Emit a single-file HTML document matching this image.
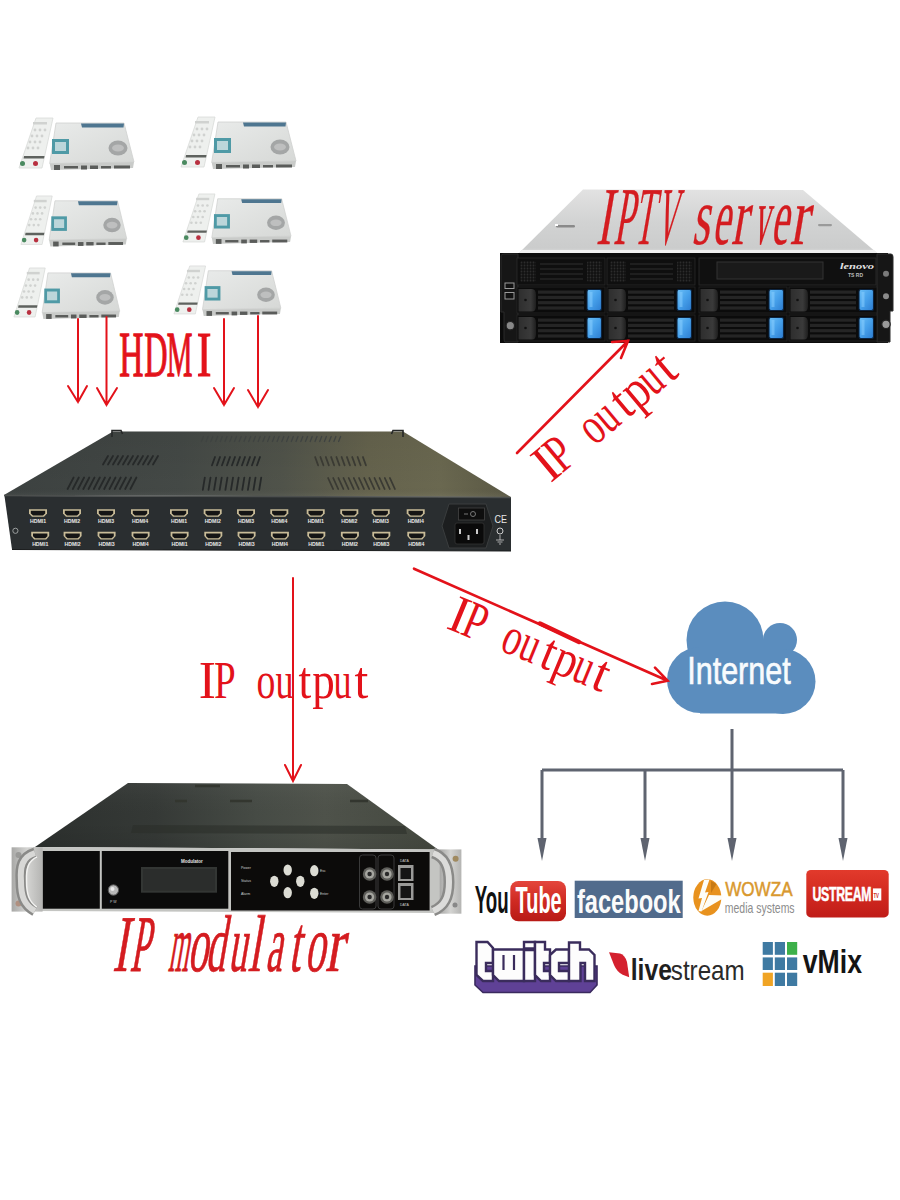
<!DOCTYPE html>
<html><head><meta charset="utf-8">
<style>
html,body{margin:0;padding:0;background:#fff;width:900px;height:1200px;overflow:hidden}
svg{display:block}
</style></head><body>
<svg width="900" height="1200" viewBox="0 0 900 1200">
<defs>
  <linearGradient id="encTop" gradientUnits="userSpaceOnUse" x1="4" y1="0" x2="511" y2="0">
    <stop offset="0" stop-color="#3c4140"/><stop offset="0.35" stop-color="#444946"/><stop offset="0.55" stop-color="#50534a"/><stop offset="0.72" stop-color="#65634d"/><stop offset="0.86" stop-color="#6a6850"/><stop offset="1" stop-color="#5a5844"/>
  </linearGradient>
  <linearGradient id="encHi" x1="0" y1="0" x2="0" y2="1">
    <stop offset="0" stop-color="#000" stop-opacity="0.05"/><stop offset="0.85" stop-color="#000" stop-opacity="0"/><stop offset="1" stop-color="#fff" stop-opacity="0.06"/>
  </linearGradient>
  <linearGradient id="srvTop" x1="0" y1="0" x2="0" y2="1">
    <stop offset="0" stop-color="#e2e2e2"/><stop offset="0.5" stop-color="#d2d3d3"/><stop offset="0.92" stop-color="#cbcccc"/><stop offset="1" stop-color="#dcdcdc"/>
  </linearGradient>
  <linearGradient id="modTop" gradientUnits="userSpaceOnUse" x1="35" y1="0" x2="438" y2="0">
    <stop offset="0" stop-color="#2c302e"/><stop offset="0.3" stop-color="#353936"/><stop offset="0.55" stop-color="#464b45"/><stop offset="0.72" stop-color="#4e524a"/><stop offset="1" stop-color="#454940"/>
  </linearGradient>
  <linearGradient id="boxBody" x1="0" y1="0" x2="1" y2="1">
    <stop offset="0" stop-color="#e9ebea"/><stop offset="1" stop-color="#d6d8d6"/>
  </linearGradient>
  <g id="stb">
    <polygon points="18,1 35,1 24,51 1,51" fill="#eef0ee" stroke="#d8dad8" stroke-width="0.8"/>
    <g fill="#d0d2d0">
      <rect x="15" y="5" width="14" height="2.5"/>
      <circle cx="17" cy="13" r="1.4"/><circle cx="22" cy="13" r="1.4"/><circle cx="27" cy="13" r="1.4"/>
      <circle cx="14" cy="19" r="1.4"/><circle cx="19" cy="19" r="1.4"/><circle cx="24" cy="19" r="1.4"/>
      <circle cx="12" cy="25" r="1.4"/><circle cx="17" cy="25" r="1.4"/><circle cx="22" cy="25" r="1.4"/>
      <circle cx="10" cy="31" r="1.4"/><circle cx="15" cy="31" r="1.4"/><circle cx="20" cy="31" r="1.4"/>
    </g>
    <polygon points="6,39 26.5,39 26,41.5 5.5,41.5" fill="#5e625e"/>
    <circle cx="4.5" cy="46.5" r="2.5" fill="#4a8a60"/>
    <circle cx="17.5" cy="46.5" r="2.5" fill="#b83040"/>
    <polygon points="38,6 106,6 116,45 31.7,46.5" fill="url(#boxBody)" stroke="#cfd1cf" stroke-width="0.8"/>
    <polygon points="31.7,46.5 116,45 115,51 33,53" fill="#c9cbc9"/>
    <g fill="#5a5c5a">
      <rect x="36" y="48" width="6" height="5"/><rect x="46" y="49" width="14" height="2.5"/>
      <rect x="63" y="48.5" width="6" height="4"/><rect x="72" y="48.5" width="8" height="3.5"/>
      <rect x="83" y="49" width="10" height="2.5"/><rect x="96" y="48.5" width="16" height="3"/>
    </g>
    <polygon points="63,6.5 106,6.5 105.5,10.5 64,10.5" fill="#4e7690"/>
    <rect x="34" y="22" width="17" height="15" fill="#4f9aa6"/>
    <rect x="37" y="25" width="11" height="9" fill="#bcd6da"/>
    <ellipse cx="100" cy="31" rx="9.5" ry="7.5" fill="#a4a6a6"/>
    <ellipse cx="100" cy="31" rx="6" ry="3.5" fill="#bebfbf"/>
  </g>
  <linearGradient id="blueTab" x1="0" y1="0" x2="1" y2="1">
    <stop offset="0" stop-color="#6cc0f8"/><stop offset="0.5" stop-color="#46a0ea"/><stop offset="1" stop-color="#2c7cd0"/>
  </linearGradient>
  <linearGradient id="latch" x1="0" y1="0" x2="1" y2="0">
    <stop offset="0" stop-color="#2e2e2e"/><stop offset="0.7" stop-color="#3a3a3a"/><stop offset="1" stop-color="#1e1e1e"/>
  </linearGradient>
  <g id="drv">
    <rect x="0" y="0" width="88" height="26" fill="#0b0b0b" stroke="#262626" stroke-width="0.8"/>
    <path d="M1.5,2 H15 Q19,2 19,8 V19 Q19,24.5 15,24.5 H1.5 Z" fill="url(#latch)"/>
    <circle cx="8.5" cy="13" r="1.3" fill="#111"/>
    <g fill="#252525">
      <rect x="21" y="3.5" width="46" height="3.2"/><rect x="21" y="8.8" width="46" height="3.2"/>
      <rect x="21" y="14.1" width="46" height="3.2"/><rect x="21" y="19.4" width="46" height="3.2"/>
    </g>
    <rect x="70" y="2.5" width="14.5" height="21" rx="2" fill="url(#blueTab)" stroke="#0c2440" stroke-width="1.1"/>
    <rect x="72.5" y="5" width="3" height="15" fill="#8cd0ff" opacity="0.5"/>
  </g>
  <pattern id="mesh" width="3" height="3" patternUnits="userSpaceOnUse">
    <rect width="3" height="3" fill="#111"/><circle cx="1.5" cy="1.5" r="0.9" fill="#2c2c2c"/>
  </pattern>
  <g id="bay">
    <rect x="0" y="0" width="88" height="27" fill="#0f0f0f" stroke="#2a2a2a" stroke-width="0.8"/>
    <rect x="3" y="3" width="16" height="21" rx="2" fill="url(#mesh)"/>
    <rect x="70" y="3" width="15" height="21" rx="2" fill="url(#mesh)"/>
    <g stroke="#262626" stroke-width="1.6">
      <path d="M23,6 H66 M23,11 H66 M23,16 H66 M23,21 H66"/>
    </g>
  </g>
  <g id="port">
    <path d="M-9,-3.8 h18 v4.3 l-3,3.3 h-12 l-3,-3.3 z" fill="#c9bc98"/>
    <path d="M-7.2,-2.2 h14.4 v2.8 l-2.2,2 h-10 l-2.2,-2 z" fill="#151515"/>
  </g>
  <linearGradient id="silverV" x1="0" y1="0" x2="1" y2="0">
    <stop offset="0" stop-color="#a8a8a6"/><stop offset="0.5" stop-color="#d4d4d2"/><stop offset="1" stop-color="#b4b4b2"/>
  </linearGradient>
  <linearGradient id="modHi" x1="0" y1="0" x2="0" y2="1">
    <stop offset="0" stop-color="#fff" stop-opacity="0.04"/><stop offset="0.6" stop-color="#000" stop-opacity="0"/><stop offset="1" stop-color="#000" stop-opacity="0.08"/>
  </linearGradient>
  <linearGradient id="ytRed" x1="0" y1="0" x2="0" y2="1">
    <stop offset="0" stop-color="#e4463c"/><stop offset="0.5" stop-color="#cf2a22"/><stop offset="1" stop-color="#b81a16"/>
  </linearGradient>
  <linearGradient id="usRed" x1="0" y1="0" x2="0" y2="1">
    <stop offset="0" stop-color="#e23a2c"/><stop offset="0.5" stop-color="#d22a20"/><stop offset="1" stop-color="#c01c18"/>
  </linearGradient>

</defs>
<rect width="900" height="1200" fill="#fff"/>
<!-- Set-top boxes -->
<use href="#stb" transform="translate(18,117)"/>
<use href="#stb" transform="translate(20,195) scale(0.92,0.97)"/>
<use href="#stb" transform="translate(13,267) scale(0.92,0.98)"/>
<use href="#stb" transform="translate(180,116)"/>
<use href="#stb" transform="translate(182,193) scale(0.94,0.96)"/>
<use href="#stb" transform="translate(173,265) scale(0.93,0.96)"/>

<!-- Encoder -->
<polygon points="4,495 113,431.5 403,431.5 511,497" fill="url(#encTop)"/>
<polygon points="4,495 113,431.5 403,431.5 511,497" fill="url(#encHi)"/>
<path d="M112,437 V430.5 H121 L122.5,434" fill="none" stroke="#262828" stroke-width="1.6"/>
<path d="M403,437 V430.5 H393 L391.5,434" fill="none" stroke="#262828" stroke-width="1.6"/>
<polygon points="4.5,496 511,497 511,551 12,549.5" fill="#2a2e30"/>
<line x1="4" y1="495.5" x2="511" y2="497.5" stroke="#4c4f4e" stroke-width="1.5"/>
<line x1="12" y1="549.5" x2="511" y2="551" stroke="#1a1c1d" stroke-width="1"/>
<!-- vents -->
<path d="M201.4,441.5 L203.4,436.5 M206.1,441.5 L208.1,436.5 M210.8,441.5 L212.8,436.5 M215.6,441.5 L217.6,436.5 M220.3,441.5 L222.3,436.5 M225.0,441.5 L227.0,436.5 M229.8,441.5 L231.8,436.5 M234.5,441.5 L236.5,436.5 M239.2,441.5 L241.2,436.5 M244.0,441.5 L246.0,436.5 M248.7,441.5 L250.7,436.5 M253.4,441.5 L255.4,436.5 M258.2,441.5 L260.2,436.5 M262.9,441.5 L264.9,436.5 M267.6,441.5 L269.6,436.5 M272.4,441.5 L274.4,436.5 M277.1,441.5 L279.1,436.5 M281.8,441.5 L283.8,436.5 M286.6,441.5 L288.6,436.5 M291.3,441.5 L293.3,436.5 M296.0,441.5 L298.0,436.5 M300.8,441.5 L302.8,436.5 M305.5,441.5 L307.5,436.5 M310.2,441.5 L312.2,436.5 M315.0,441.5 L317.0,436.5 M319.7,441.5 L321.7,436.5 M324.4,441.5 L326.4,436.5 M329.2,441.5 L331.2,436.5 M333.9,441.5 L335.9,436.5 M338.6,441.5 L340.6,436.5" stroke="#3f4341" stroke-width="1.3" stroke-linecap="round" fill="none"/>
<path d="M103.0,464.5 L108.0,456 M108.0,464.5 L113.0,456 M113.0,464.5 L118.0,456 M118.0,464.5 L123.0,456 M123.0,464.5 L128.0,456 M128.0,464.5 L133.0,456 M133.0,464.5 L138.0,456 M138.0,464.5 L143.0,456 M143.0,464.5 L148.0,456 M148.0,464.5 L153.0,456 M153.0,464.5 L158.0,456" stroke="#262929" stroke-width="1.8" stroke-linecap="round" fill="none"/>
<path d="M212.0,465.3 L215.0,457 M217.0,465.3 L220.0,457 M222.0,465.3 L225.0,457 M227.0,465.3 L230.0,457 M232.0,465.3 L235.0,457 M237.0,465.3 L240.0,457 M242.0,465.3 L245.0,457 M247.0,465.3 L250.0,457 M252.0,465.3 L255.0,457 M257.0,465.3 L260.0,457" stroke="#262929" stroke-width="1.8" stroke-linecap="round" fill="none"/>
<path d="M318.1,465.3 L315.1,457 M323.4,465.3 L320.4,457 M328.8,465.3 L325.8,457 M334.1,465.3 L331.1,457 M339.4,465.3 L336.4,457 M344.6,465.3 L341.6,457 M349.9,465.3 L346.9,457 M355.2,465.3 L352.2,457 M360.6,465.3 L357.6,457 M365.9,465.3 L362.9,457" stroke="#3a3a33" stroke-width="1.8" stroke-linecap="round" fill="none"/>
<path d="M67.6,489 L73.6,477.5 M72.8,489 L78.8,477.5 M78.1,489 L84.1,477.5 M83.3,489 L89.3,477.5 M88.5,489 L94.5,477.5 M93.8,489 L99.8,477.5 M99.0,489 L105.0,477.5 M104.2,489 L110.2,477.5 M109.5,489 L115.5,477.5 M114.7,489 L120.7,477.5 M119.9,489 L125.9,477.5 M125.2,489 L131.2,477.5 M130.4,489 L136.4,477.5" stroke="#262929" stroke-width="1.8" stroke-linecap="round" fill="none"/>
<path d="M202.8,489.8 L204.8,477.6 M208.5,489.8 L210.5,477.6 M214.1,489.8 L216.1,477.6 M219.7,489.8 L221.7,477.6 M225.4,489.8 L227.4,477.6 M231.0,489.8 L233.0,477.6 M236.6,489.8 L238.6,477.6 M242.3,489.8 L244.3,477.6 M247.9,489.8 L249.9,477.6 M253.5,489.8 L255.5,477.6 M259.2,489.8 L261.2,477.6" stroke="#262929" stroke-width="1.8" stroke-linecap="round" fill="none"/>
<path d="M333.1,489 L328.1,478 M338.2,489 L333.2,478 M343.4,489 L338.4,478 M348.5,489 L343.5,478 M353.7,489 L348.7,478 M358.8,489 L353.8,478 M364.0,489 L359.0,478 M369.2,489 L364.2,478 M374.3,489 L369.3,478 M379.5,489 L374.5,478 M384.6,489 L379.6,478 M389.8,489 L384.8,478 M394.9,489 L389.9,478" stroke="#3a3a33" stroke-width="1.8" stroke-linecap="round" fill="none"/>
<circle cx="15.4" cy="530.8" r="2.6" fill="none" stroke="#9a9e9e" stroke-width="1"/>
<use href="#port" transform="translate(38,513)"/>
<use href="#port" transform="translate(40.2,535.6)"/>
<text x="38" y="523.4" font-size="5.2" fill="#e8e8e8" text-anchor="middle" style="font-family:'Liberation Sans';font-weight:bold">HDMI1</text>
<text x="40.2" y="545.9" font-size="5.2" fill="#e8e8e8" text-anchor="middle" style="font-family:'Liberation Sans';font-weight:bold">HDMI1</text>
<use href="#port" transform="translate(72,513)"/>
<use href="#port" transform="translate(72.6,535.6)"/>
<text x="72" y="523.4" font-size="5.2" fill="#e8e8e8" text-anchor="middle" style="font-family:'Liberation Sans';font-weight:bold">HDMI2</text>
<text x="72.6" y="545.9" font-size="5.2" fill="#e8e8e8" text-anchor="middle" style="font-family:'Liberation Sans';font-weight:bold">HDMI2</text>
<use href="#port" transform="translate(106,513)"/>
<use href="#port" transform="translate(106.6,535.6)"/>
<text x="106" y="523.4" font-size="5.2" fill="#e8e8e8" text-anchor="middle" style="font-family:'Liberation Sans';font-weight:bold">HDMI3</text>
<text x="106.6" y="545.9" font-size="5.2" fill="#e8e8e8" text-anchor="middle" style="font-family:'Liberation Sans';font-weight:bold">HDMI3</text>
<use href="#port" transform="translate(140,513)"/>
<use href="#port" transform="translate(140.6,535.6)"/>
<text x="140" y="523.4" font-size="5.2" fill="#e8e8e8" text-anchor="middle" style="font-family:'Liberation Sans';font-weight:bold">HDMI4</text>
<text x="140.6" y="545.9" font-size="5.2" fill="#e8e8e8" text-anchor="middle" style="font-family:'Liberation Sans';font-weight:bold">HDMI4</text>
<use href="#port" transform="translate(179,513)"/>
<use href="#port" transform="translate(179.6,535.6)"/>
<text x="179" y="523.4" font-size="5.2" fill="#e8e8e8" text-anchor="middle" style="font-family:'Liberation Sans';font-weight:bold">HDMI1</text>
<text x="179.6" y="545.9" font-size="5.2" fill="#e8e8e8" text-anchor="middle" style="font-family:'Liberation Sans';font-weight:bold">HDMI1</text>
<use href="#port" transform="translate(212.7,513)"/>
<use href="#port" transform="translate(213.29999999999998,535.6)"/>
<text x="212.7" y="523.4" font-size="5.2" fill="#e8e8e8" text-anchor="middle" style="font-family:'Liberation Sans';font-weight:bold">HDMI2</text>
<text x="213.29999999999998" y="545.9" font-size="5.2" fill="#e8e8e8" text-anchor="middle" style="font-family:'Liberation Sans';font-weight:bold">HDMI2</text>
<use href="#port" transform="translate(246,513)"/>
<use href="#port" transform="translate(246.6,535.6)"/>
<text x="246" y="523.4" font-size="5.2" fill="#e8e8e8" text-anchor="middle" style="font-family:'Liberation Sans';font-weight:bold">HDMI3</text>
<text x="246.6" y="545.9" font-size="5.2" fill="#e8e8e8" text-anchor="middle" style="font-family:'Liberation Sans';font-weight:bold">HDMI3</text>
<use href="#port" transform="translate(279.3,513)"/>
<use href="#port" transform="translate(279.90000000000003,535.6)"/>
<text x="279.3" y="523.4" font-size="5.2" fill="#e8e8e8" text-anchor="middle" style="font-family:'Liberation Sans';font-weight:bold">HDMI4</text>
<text x="279.90000000000003" y="545.9" font-size="5.2" fill="#e8e8e8" text-anchor="middle" style="font-family:'Liberation Sans';font-weight:bold">HDMI4</text>
<use href="#port" transform="translate(315.7,513)"/>
<use href="#port" transform="translate(316.3,535.6)"/>
<text x="315.7" y="523.4" font-size="5.2" fill="#e8e8e8" text-anchor="middle" style="font-family:'Liberation Sans';font-weight:bold">HDMI1</text>
<text x="316.3" y="545.9" font-size="5.2" fill="#e8e8e8" text-anchor="middle" style="font-family:'Liberation Sans';font-weight:bold">HDMI1</text>
<use href="#port" transform="translate(349.3,513)"/>
<use href="#port" transform="translate(349.90000000000003,535.6)"/>
<text x="349.3" y="523.4" font-size="5.2" fill="#e8e8e8" text-anchor="middle" style="font-family:'Liberation Sans';font-weight:bold">HDMI2</text>
<text x="349.90000000000003" y="545.9" font-size="5.2" fill="#e8e8e8" text-anchor="middle" style="font-family:'Liberation Sans';font-weight:bold">HDMI2</text>
<use href="#port" transform="translate(380.7,513)"/>
<use href="#port" transform="translate(381.3,535.6)"/>
<text x="380.7" y="523.4" font-size="5.2" fill="#e8e8e8" text-anchor="middle" style="font-family:'Liberation Sans';font-weight:bold">HDMI3</text>
<text x="381.3" y="545.9" font-size="5.2" fill="#e8e8e8" text-anchor="middle" style="font-family:'Liberation Sans';font-weight:bold">HDMI3</text>
<use href="#port" transform="translate(415.7,513)"/>
<use href="#port" transform="translate(416.3,535.6)"/>
<text x="415.7" y="523.4" font-size="5.2" fill="#e8e8e8" text-anchor="middle" style="font-family:'Liberation Sans';font-weight:bold">HDMI4</text>
<text x="416.3" y="545.9" font-size="5.2" fill="#e8e8e8" text-anchor="middle" style="font-family:'Liberation Sans';font-weight:bold">HDMI4</text>
<!-- power module -->
<polygon points="449,504 486,504 493,526 486,548 449,548 442,526" fill="#1c1e1f" stroke="#3a3d3e" stroke-width="1"/>
<rect x="458.5" y="508" width="26" height="12" fill="#0e0e0e" stroke="#444" stroke-width="0.8"/>
<circle cx="473" cy="514" r="2.5" fill="none" stroke="#777" stroke-width="1"/>
<line x1="464" y1="514" x2="468" y2="514" stroke="#777" stroke-width="1"/>
<rect x="455" y="523" width="29" height="21" rx="2" fill="#0a0a0a" stroke="#333" stroke-width="0.8"/>
<rect x="459" y="529" width="2" height="5" fill="#ccc"/><rect x="476" y="529" width="2" height="5" fill="#ccc"/><rect x="467.5" y="535" width="2" height="5" fill="#ccc"/>
<text x="494.5" y="523" font-size="10" fill="#e8e8e8" transform="translate(494.5,0) scale(0.9,1) translate(-494.5,0)" style="font-family:'Liberation Sans'">CE</text>
<circle cx="500" cy="531" r="3" fill="none" stroke="#ccc" stroke-width="1"/>
<path d="M500,535 V540 M496,540 H504 M497.5,542 H502.5 M499,544 H501" stroke="#ccc" stroke-width="0.8"/>

<!-- Server -->
<polygon points="583,189.5 803,190 877,253 519,253" fill="url(#srvTop)"/>
<polygon points="519,253 877,253 874,250 522,250" fill="#f0f0f0"/>
<rect x="556" y="225" width="19" height="2.5" rx="1.2" fill="#8a8a8a"/>
<rect x="555" y="224" width="3" height="2" fill="#fff"/>
<rect x="818" y="224" width="14" height="2.2" rx="1.1" fill="#9a9a9a"/>
<rect x="500" y="253" width="388" height="90" fill="#0b0b0b"/>
<!-- ears -->
<path d="M501,256 Q501,254 504,254 H518 V342 H505 Q504,342 504,338 V312 H501 Z" fill="#161616" stroke="#2a2a2a" stroke-width="1"/>
<rect x="505" y="283" width="9" height="5.5" fill="#111" stroke="#9a9a9a" stroke-width="1"/>
<rect x="505" y="292.5" width="9" height="6.5" fill="#111" stroke="#9a9a9a" stroke-width="1"/>
<circle cx="510.3" cy="325.7" r="4.2" fill="#888" stroke="#222" stroke-width="1.2"/>
<path d="M877,254 H891 Q893,254 893,257 V311 H890 V342 H877 Z" fill="#161616" stroke="#2a2a2a" stroke-width="1"/>
<circle cx="886" cy="273.7" r="3" fill="#7a7a7a"/>
<circle cx="886" cy="296.3" r="3" fill="#8a8a8a"/>
<circle cx="886" cy="324.3" r="4.2" fill="#9a9a9a" stroke="#222" stroke-width="1.2"/>
<!-- top bays -->
<use href="#bay" transform="translate(517,258)"/>
<use href="#bay" transform="translate(607,258)"/>
<rect x="699" y="258" width="177" height="27" fill="#101010" stroke="#262626" stroke-width="1"/>
<rect x="717" y="262" width="106" height="17" fill="#1a1a1a" stroke="#333" stroke-width="1"/>
<text x="840" y="268.5" font-size="8" fill="#e0e0e0" textLength="34" lengthAdjust="spacingAndGlyphs" style="font-family:'Liberation Serif';font-style:italic;font-weight:bold">lenovo</text>
<text x="848" y="277" font-size="5" fill="#bbb" style="font-family:'Liberation Sans';font-weight:bold">TS RD</text>
<!-- drives -->
<use href="#drv" transform="translate(517,287)"/>
<use href="#drv" transform="translate(607,287)"/>
<use href="#drv" transform="translate(699,287)"/>
<use href="#drv" transform="translate(789,287)"/>
<use href="#drv" transform="translate(517,315)"/>
<use href="#drv" transform="translate(607,315)"/>
<use href="#drv" transform="translate(699,315)"/>
<use href="#drv" transform="translate(789,315)"/>

<!-- Modulator -->
<polygon points="128,783 347,784 438,849.5 35,847" fill="url(#modTop)"/>
<polygon points="128,783 347,784 438,849.5 35,847" fill="url(#modHi)"/>
<polygon points="133,825 405,826 407,834 131,833" fill="#2a2d28" opacity="0.55"/>
<path d="M175,801 h12 M230,801 h22 M350,801 h18 M195,786 h25" stroke="#33362f" stroke-width="2.5"/>
<polygon points="33,847 440,849.5 440,913 33,911" fill="#c4c5c2"/>
<rect x="42.6" y="851" width="57.2" height="57.7" fill="#0b0b0b"/>
<rect x="101.8" y="851" width="126.5" height="57.7" fill="#0b0b0b"/>
<rect x="231" y="852" width="198.6" height="58.5" fill="#0c0b0a"/>
<rect x="141" y="867" width="76" height="25.7" fill="#333634"/>
<rect x="143" y="869" width="72" height="21.7" fill="#2b2d2c"/>
<text x="181" y="863" font-size="5.5" fill="#e8e8e8" transform="translate(181,0) scale(0.82,1) translate(-181,0)" style="font-family:'Liberation Sans';font-weight:bold">Modulator</text>
<circle cx="113.4" cy="890" r="5.2" fill="#b8b8b8" stroke="#555" stroke-width="1"/>
<circle cx="112.5" cy="889" r="2" fill="#e8e8e8"/>
<text x="110" y="903" font-size="3.5" fill="#ccc" style="font-family:'Liberation Sans'">P W</text>
<g fill="#dcdcd4">
  <ellipse cx="287.7" cy="870" rx="4.2" ry="5.6"/>
  <ellipse cx="274.3" cy="881.3" rx="4.2" ry="5.6"/>
  <ellipse cx="300.3" cy="881.3" rx="4.2" ry="5.6"/>
  <ellipse cx="287.7" cy="892.7" rx="4.2" ry="5.6"/>
  <ellipse cx="314.3" cy="870.7" rx="4.2" ry="5.6"/>
  <ellipse cx="314.3" cy="893.3" rx="4.2" ry="5.6"/>
</g>
<g fill="#cfcfcf" style="font-family:'Liberation Sans'" font-size="3.5">
  <text x="241" y="868.5">Power</text><text x="241" y="882">Status</text><text x="241" y="895">Alarm</text>
  <text x="320" y="872">Esc</text><text x="320" y="895">Enter</text>
</g>
<rect x="359.5" y="855" width="16.5" height="54" rx="3" fill="none" stroke="#3a3a3a" stroke-width="1"/>
<rect x="378" y="855" width="16" height="54" rx="3" fill="none" stroke="#3a3a3a" stroke-width="1"/>
<g>
  <circle cx="369.6" cy="874" r="6.8" fill="#5e5e5a"/><circle cx="369.6" cy="874" r="4.6" fill="#a6a6a0"/><circle cx="369.6" cy="874" r="2.2" fill="#2a2a2a"/>
  <circle cx="369.6" cy="897" r="6.8" fill="#5e5e5a"/><circle cx="369.6" cy="897" r="4.6" fill="#a6a6a0"/><circle cx="369.6" cy="897" r="2.2" fill="#2a2a2a"/>
  <circle cx="387" cy="874" r="6.8" fill="#5e5e5a"/><circle cx="387" cy="874" r="4.6" fill="#a6a6a0"/><circle cx="387" cy="874" r="2.2" fill="#2a2a2a"/>
  <circle cx="387" cy="897" r="6.8" fill="#5e5e5a"/><circle cx="387" cy="897" r="4.6" fill="#a6a6a0"/><circle cx="387" cy="897" r="2.2" fill="#2a2a2a"/>
</g>
<rect x="398" y="865" width="15.5" height="16" fill="#9a9a98"/><rect x="400.5" y="868" width="10.5" height="11" fill="#151515"/>
<rect x="398" y="883" width="15.5" height="17" fill="#9a9a98"/><rect x="400.5" y="886" width="10.5" height="12" fill="#151515"/>
<text x="400" y="862" font-size="3.5" fill="#ccc" style="font-family:'Liberation Sans'">DATA</text>
<text x="400" y="906" font-size="3.5" fill="#ccc" style="font-family:'Liberation Sans'">DATA</text>
<!-- left ear -->
<rect x="11.6" y="847.3" width="31" height="64.3" fill="url(#silverV)"/>
<circle cx="18.5" cy="855" r="3" fill="#9a9a98"/><circle cx="18.5" cy="903.5" r="3" fill="#b09080"/>
<path d="M35,853 C22,857 20,867 21,881 C21,896 24,905 35,911" fill="none" stroke="#8a8a88" stroke-width="11"/>
<path d="M35,853 C22,857 20,867 21,881 C21,896 24,905 35,911" fill="none" stroke="#d8d8d6" stroke-width="6"/>
<path d="M37,857 C28,861 26,869 26.5,881 C26.5,894 29,902 37,907" fill="none" stroke="#f2f2f0" stroke-width="1.5"/>
<!-- right ear -->
<rect x="439.7" y="849.4" width="21.7" height="64.3" fill="url(#silverV)"/>
<path d="M433,853 C445,857 449,867 449,882 C449,897 445,906 433,911" fill="none" stroke="#8a8a88" stroke-width="11"/>
<path d="M433,853 C445,857 449,867 449,882 C449,897 445,906 433,911" fill="none" stroke="#dcdcda" stroke-width="6"/>
<circle cx="455.6" cy="858.8" r="3" fill="#a08a60"/>
<circle cx="455" cy="905" r="2.5" fill="#888"/>

<!-- Cloud -->
<g fill="#5b8dbe">
  <circle cx="725" cy="640" r="38.5"/>
  <circle cx="780" cy="640" r="17"/>
  <circle cx="783" cy="681.5" r="32.5"/>
  <circle cx="700" cy="680" r="33"/>
  <rect x="700" y="640" width="83" height="73.5"/>
</g>
<!-- Tree -->
<g stroke="#5f6470" stroke-width="3" fill="none">
  <path d="M732,729 V770 M542,770 H843 M542,770 V840 M645,770 V840 M732,770 V840 M843,770 V840"/>
</g>
<g fill="#5f6470">
  <polygon points="537.5,838 546.5,838 542,861"/>
  <polygon points="640.5,838 649.5,838 645,861"/>
  <polygon points="727.5,838 736.5,838 732,861"/>
  <polygon points="838.5,838 847.5,838 843,861"/>
</g>

<!-- Red arrows -->
<g stroke="#e3121a" stroke-width="2" fill="none" stroke-linecap="round">
  <path d="M78,319 V402 M68,386 L78,402 L87,386"/>
  <path d="M106.5,317 V405 M97,388 L106.5,405 L117,388"/>
  <path d="M224,319 V405 M214,388 L224,405 L234,388"/>
  <path d="M258,316 V407 M248,390 L258,407 L268,390"/>
  <path d="M293,578 V781 M285,765 L293,781 L301,765"/>
</g>
<g stroke="#e3121a" stroke-width="2.6" fill="none" stroke-linecap="round">
  <path d="M517,453 L628,341 M612,342 L628,341 L621,358"/>
  <path d="M414,568.7 L667.6,680.7 M655,667.6 L667.6,680.7 L652,684"/>
  <path d="M540,623.5 L579,642" stroke-width="4.5"/>
</g>

<text style="font-family:'Liberation Serif';font-weight:normal" font-size="63.2" fill="#e3121a" stroke="#e3121a" stroke-width="1.0" vector-effect="non-scaling-stroke" x="-22.79" y="0" transform="translate(131.30,376.40) scale(0.530,1.000)">H</text>
<text style="font-family:'Liberation Serif';font-weight:normal" font-size="63.2" fill="#e3121a" stroke="#e3121a" stroke-width="1.0" vector-effect="non-scaling-stroke" x="-22.44" y="0" transform="translate(155.80,376.40) scale(0.510,1.000)">D</text>
<text style="font-family:'Liberation Serif';font-weight:normal" font-size="63.2" fill="#e3121a" stroke="#e3121a" stroke-width="1.0" vector-effect="non-scaling-stroke" x="-28.06" y="0" transform="translate(179.50,376.40) scale(0.457,1.000)">M</text>
<text style="font-family:'Liberation Serif';font-weight:normal" font-size="63.2" fill="#e3121a" stroke="#e3121a" stroke-width="1.0" vector-effect="non-scaling-stroke" x="-10.52" y="0" transform="translate(204.00,376.40) scale(0.697,1.000)">I</text>
<g transform="translate(207.3,698)"><text style="font-family:'Liberation Serif';font-weight:normal" font-size="53.4" fill="#e3121a" x="-8.90" y="0" transform="translate(0.00,0.00) scale(0.961,1.000)">I</text><text style="font-family:'Liberation Serif';font-weight:normal" font-size="53.4" fill="#e3121a" x="-14.53" y="0" transform="translate(17.20,0.00) scale(0.732,1.000)">P</text><text style="font-family:'Liberation Serif';font-weight:normal" font-size="53.4" fill="#e3121a" x="-13.33" y="0" transform="translate(58.70,0.00) scale(0.708,1.000)">o</text><text style="font-family:'Liberation Serif';font-weight:normal" font-size="53.4" fill="#e3121a" x="-13.23" y="0" transform="translate(77.20,0.00) scale(0.678,1.000)">u</text><text style="font-family:'Liberation Serif';font-weight:normal" font-size="53.4" fill="#e3121a" x="-7.51" y="0" transform="translate(97.70,0.00) scale(0.860,1.000)">t</text><text style="font-family:'Liberation Serif';font-weight:normal" font-size="53.4" fill="#e3121a" x="-12.72" y="0" transform="translate(115.70,0.00) scale(0.843,1.000)">p</text><text style="font-family:'Liberation Serif';font-weight:normal" font-size="53.4" fill="#e3121a" x="-13.23" y="0" transform="translate(135.20,0.00) scale(0.678,1.000)">u</text><text style="font-family:'Liberation Serif';font-weight:normal" font-size="53.4" fill="#e3121a" x="-7.51" y="0" transform="translate(154.20,0.00) scale(0.932,1.000)">t</text></g>
<g transform="translate(557,478) rotate(-40)"><text style="font-family:'Liberation Serif';font-weight:normal" font-size="53.4" fill="#e3121a" x="-8.90" y="0" transform="translate(0.00,0.00) scale(0.961,1.000)">I</text><text style="font-family:'Liberation Serif';font-weight:normal" font-size="53.4" fill="#e3121a" x="-14.53" y="0" transform="translate(17.20,0.00) scale(0.732,1.000)">P</text><text style="font-family:'Liberation Serif';font-weight:normal" font-size="53.4" fill="#e3121a" x="-13.33" y="0" transform="translate(58.70,0.00) scale(0.708,1.000)">o</text><text style="font-family:'Liberation Serif';font-weight:normal" font-size="53.4" fill="#e3121a" x="-13.23" y="0" transform="translate(77.20,0.00) scale(0.678,1.000)">u</text><text style="font-family:'Liberation Serif';font-weight:normal" font-size="53.4" fill="#e3121a" x="-7.51" y="0" transform="translate(97.70,0.00) scale(0.860,1.000)">t</text><text style="font-family:'Liberation Serif';font-weight:normal" font-size="53.4" fill="#e3121a" x="-12.72" y="0" transform="translate(115.70,0.00) scale(0.843,1.000)">p</text><text style="font-family:'Liberation Serif';font-weight:normal" font-size="53.4" fill="#e3121a" x="-13.23" y="0" transform="translate(135.20,0.00) scale(0.678,1.000)">u</text><text style="font-family:'Liberation Serif';font-weight:normal" font-size="53.4" fill="#e3121a" x="-7.51" y="0" transform="translate(154.20,0.00) scale(0.932,1.000)">t</text></g>
<g transform="translate(453,631) rotate(22.5)"><text style="font-family:'Liberation Serif';font-weight:normal" font-size="53.4" fill="#e3121a" x="-8.90" y="0" transform="translate(0.00,0.00) scale(0.961,1.000)">I</text><text style="font-family:'Liberation Serif';font-weight:normal" font-size="53.4" fill="#e3121a" x="-14.53" y="0" transform="translate(17.20,0.00) scale(0.732,1.000)">P</text><text style="font-family:'Liberation Serif';font-weight:normal" font-size="53.4" fill="#e3121a" x="-13.33" y="0" transform="translate(58.70,0.00) scale(0.708,1.000)">o</text><text style="font-family:'Liberation Serif';font-weight:normal" font-size="53.4" fill="#e3121a" x="-13.23" y="0" transform="translate(77.20,0.00) scale(0.678,1.000)">u</text><text style="font-family:'Liberation Serif';font-weight:normal" font-size="53.4" fill="#e3121a" x="-7.51" y="0" transform="translate(97.70,0.00) scale(0.860,1.000)">t</text><text style="font-family:'Liberation Serif';font-weight:normal" font-size="53.4" fill="#e3121a" x="-12.72" y="0" transform="translate(115.70,0.00) scale(0.843,1.000)">p</text><text style="font-family:'Liberation Serif';font-weight:normal" font-size="53.4" fill="#e3121a" x="-13.23" y="0" transform="translate(135.20,0.00) scale(0.678,1.000)">u</text><text style="font-family:'Liberation Serif';font-weight:normal" font-size="53.4" fill="#e3121a" x="-7.51" y="0" transform="translate(154.20,0.00) scale(0.932,1.000)">t</text></g>
<text style="font-family:'Liberation Serif';font-weight:normal" font-size="82.1" fill="#d41c20" stroke="#d41c20" stroke-width="0.3" vector-effect="non-scaling-stroke" x="-13.68" y="0" transform="translate(603.39,243.60) skewX(-9.70) scale(0.560,1.000)">I</text>
<text style="font-family:'Liberation Serif';font-weight:normal" font-size="82.1" fill="#d41c20" stroke="#d41c20" stroke-width="0.3" vector-effect="non-scaling-stroke" x="-22.34" y="0" transform="translate(622.89,243.60) skewX(-9.70) scale(0.438,1.000)">P</text>
<text style="font-family:'Liberation Serif';font-weight:normal" font-size="82.1" fill="#d41c20" stroke="#d41c20" stroke-width="0.3" vector-effect="non-scaling-stroke" x="-25.09" y="0" transform="translate(643.39,243.60) skewX(-9.70) scale(0.402,1.000)">T</text>
<text style="font-family:'Liberation Serif';font-weight:normal" font-size="82.1" fill="#d41c20" stroke="#d41c20" stroke-width="0.3" vector-effect="non-scaling-stroke" x="-29.61" y="0" transform="translate(665.50,243.60) skewX(-9.70) scale(0.348,1.000)">V</text>
<text style="font-family:'Liberation Serif';font-weight:normal" font-size="82.1" fill="#d41c20" stroke="#d41c20" stroke-width="0.3" vector-effect="non-scaling-stroke" x="-16.14" y="0" transform="translate(700.46,243.60) skewX(-9.70) scale(0.548,1.000)">s</text>
<text style="font-family:'Liberation Serif';font-weight:normal" font-size="82.1" fill="#d41c20" stroke="#d41c20" stroke-width="0.3" vector-effect="non-scaling-stroke" x="-18.36" y="0" transform="translate(720.76,243.60) skewX(-9.70) scale(0.478,1.000)">e</text>
<text style="font-family:'Liberation Serif';font-weight:normal" font-size="82.1" fill="#d41c20" stroke="#d41c20" stroke-width="0.3" vector-effect="non-scaling-stroke" x="-14.09" y="0" transform="translate(739.09,243.60) skewX(-9.70) scale(0.583,1.000)">r</text>
<text style="font-family:'Liberation Serif';font-weight:normal" font-size="82.1" fill="#d41c20" stroke="#d41c20" stroke-width="0.3" vector-effect="non-scaling-stroke" x="-20.49" y="0" transform="translate(760.44,243.60) skewX(-9.70) scale(0.366,1.000)">v</text>
<text style="font-family:'Liberation Serif';font-weight:normal" font-size="82.1" fill="#d41c20" stroke="#d41c20" stroke-width="0.3" vector-effect="non-scaling-stroke" x="-18.36" y="0" transform="translate(779.16,243.60) skewX(-9.70) scale(0.478,1.000)">e</text>
<text style="font-family:'Liberation Serif';font-weight:normal" font-size="82.1" fill="#d41c20" stroke="#d41c20" stroke-width="0.3" vector-effect="non-scaling-stroke" x="-14.09" y="0" transform="translate(798.99,243.60) skewX(-9.70) scale(0.663,1.000)">r</text>
<text style="font-family:'Liberation Serif';font-weight:normal" font-size="80.5" fill="#d41c20" stroke="#d41c20" stroke-width="0.6" vector-effect="non-scaling-stroke" x="-13.40" y="0" transform="translate(119.99,971.40) skewX(-9.70) scale(0.571,1.000)">I</text>
<text style="font-family:'Liberation Serif';font-weight:normal" font-size="80.5" fill="#d41c20" stroke="#d41c20" stroke-width="0.6" vector-effect="non-scaling-stroke" x="-21.88" y="0" transform="translate(138.99,971.40) skewX(-9.70) scale(0.435,1.000)">P</text>
<text style="font-family:'Liberation Serif';font-weight:normal" font-size="80.5" fill="#d41c20" stroke="#d41c20" stroke-width="0.6" vector-effect="non-scaling-stroke" x="-31.46" y="0" transform="translate(177.75,971.40) skewX(-9.70) scale(0.319,1.000)">m</text>
<text style="font-family:'Liberation Serif';font-weight:normal" font-size="80.5" fill="#d41c20" stroke="#d41c20" stroke-width="0.6" vector-effect="non-scaling-stroke" x="-20.07" y="0" transform="translate(197.32,971.40) skewX(-9.70) scale(0.500,1.000)">o</text>
<text style="font-family:'Liberation Serif';font-weight:normal" font-size="80.5" fill="#d41c20" stroke="#d41c20" stroke-width="0.6" vector-effect="non-scaling-stroke" x="-21.04" y="0" transform="translate(215.29,971.40) skewX(-9.70) scale(0.482,1.000)">d</text>
<text style="font-family:'Liberation Serif';font-weight:normal" font-size="80.5" fill="#d41c20" stroke="#d41c20" stroke-width="0.6" vector-effect="non-scaling-stroke" x="-19.91" y="0" transform="translate(236.91,971.40) skewX(-9.70) scale(0.464,1.000)">u</text>
<text style="font-family:'Liberation Serif';font-weight:normal" font-size="80.5" fill="#d41c20" stroke="#d41c20" stroke-width="0.6" vector-effect="non-scaling-stroke" x="-11.14" y="0" transform="translate(253.82,971.40) skewX(-9.70) scale(0.577,1.000)">l</text>
<text style="font-family:'Liberation Serif';font-weight:normal" font-size="80.5" fill="#d41c20" stroke="#d41c20" stroke-width="0.6" vector-effect="non-scaling-stroke" x="-18.67" y="0" transform="translate(273.84,971.40) skewX(-9.70) scale(0.457,1.000)">a</text>
<text style="font-family:'Liberation Serif';font-weight:normal" font-size="80.5" fill="#d41c20" stroke="#d41c20" stroke-width="0.6" vector-effect="non-scaling-stroke" x="-11.30" y="0" transform="translate(294.19,971.40) skewX(-9.70) scale(0.524,1.000)">t</text>
<text style="font-family:'Liberation Serif';font-weight:normal" font-size="80.5" fill="#d41c20" stroke="#d41c20" stroke-width="0.6" vector-effect="non-scaling-stroke" x="-20.07" y="0" transform="translate(314.62,971.40) skewX(-9.70) scale(0.500,1.000)">o</text>
<text style="font-family:'Liberation Serif';font-weight:normal" font-size="80.5" fill="#d41c20" stroke="#d41c20" stroke-width="0.6" vector-effect="non-scaling-stroke" x="-13.80" y="0" transform="translate(334.45,971.40) skewX(-9.70) scale(0.677,1.000)">r</text>
<text style="font-family:'Liberation Sans';font-weight:normal" font-size="39.42" fill="#f8fbfd" stroke="#f8fbfd" stroke-width="0.7" x="0" y="0" transform="translate(687.18,683.60) scale(0.775,1)">Internet</text>
<rect x="510.3" y="881" width="55.7" height="40.3" rx="8" fill="url(#ytRed)"/>
<text style="font-family:'Liberation Sans';font-weight:bold" font-size="38.40" fill="#111"  x="0" y="0" transform="translate(474.67,913.40) scale(0.487,1)">You</text>
<text style="font-family:'Liberation Sans';font-weight:bold" font-size="37.79" fill="#fff"  x="0" y="0" transform="translate(515.55,913.40) scale(0.528,1)">Tube</text>
<rect x="574.7" y="880.7" width="108" height="37.3" fill="#516b8c"/>
<text style="font-family:'Liberation Sans';font-weight:bold" font-size="34.07" fill="#fbfbfb"  x="0" y="0" transform="translate(576.89,912.70) scale(0.694,1)">facebook</text>
<text style="font-family:'Liberation Sans';font-weight:normal" font-size="20.36" fill="#d9982e" stroke="#d9982e" stroke-width="0.5" x="0" y="0" transform="translate(725.21,896.00) scale(0.839,1)">WOWZA</text>
<text style="font-family:'Liberation Sans';font-weight:normal" font-size="13.79" fill="#8c8c8c"  x="0" y="0" transform="translate(724.79,913.00) scale(0.760,1)">media systems</text>
<ellipse cx="707.3" cy="897.5" rx="14" ry="18.2" fill="#e8921e"/>
<polygon points="701.5,911 709,895 723,895.5 722,899" fill="#fdfdf8"/>
<polygon points="704,880 709.5,879.5 705,892.5 708.5,892 701.5,911.5 698.5,911 702,898 698.5,898.5" fill="#fdfdf8"/>
<polygon points="711,881 716.5,884 711,893" fill="#c87a14"/>
<rect x="806.3" y="870" width="82.4" height="47.4" rx="4.5" fill="url(#usRed)"/>
<text style="font-family:'Liberation Sans';font-weight:bold" font-size="21.08" fill="#fff" stroke="#fff" stroke-width="0.6" letter-spacing="-0.5" x="0" y="0" transform="translate(812.46,901.00) scale(0.584,1)">USTREAM</text>
<rect x="872.9" y="888.4" width="8.4" height="12.1" fill="#fff"/>
<text x="873.4" y="898.5" font-size="7" fill="#c8281e" style="font-family:'Liberation Sans';font-weight:bold" transform="translate(873.4,0) scale(0.62,1) translate(-873.4,0)">TV</text>
<path d="M609,952.3 L620,953.5 Q625,955 627,962 L629.2,977.3 L622.7,974.8 Q617,972 614,965 Z" fill="#d4202e"/>
<text style="font-family:'Liberation Sans';font-weight:bold" font-size="30.07" fill="#1e1e1e"  x="0" y="0" transform="translate(630.67,979.70) scale(0.822,1)">live</text>
<text style="font-family:'Liberation Sans';font-weight:normal" font-size="28.22" fill="#2a2a2a"  x="0" y="0" transform="translate(670.84,979.70) scale(0.856,1)">stream</text>
<rect x="762.7" y="942" width="10.2" height="12.8" fill="#3f7aa2"/>
<rect x="774.8" y="942" width="10.2" height="12.8" fill="#3f7aa2"/>
<rect x="787" y="942" width="10.2" height="12.8" fill="#3db04a"/>
<rect x="762.7" y="957.4" width="10.2" height="12.6" fill="#3f7aa2"/>
<rect x="774.8" y="957.4" width="10.2" height="12.6" fill="#3f7aa2"/>
<rect x="787" y="957.4" width="10.2" height="12.6" fill="#3f7aa2"/>
<rect x="762.7" y="972.7" width="10.2" height="13.3" fill="#f0a424"/>
<rect x="774.8" y="972.7" width="10.2" height="13.3" fill="#3f7aa2"/>
<rect x="787" y="972.7" width="10.2" height="13.3" fill="#3f7aa2"/>
<text style="font-family:'Liberation Sans';font-weight:bold" font-size="33.52" fill="#141414"  x="0" y="0" transform="translate(802.77,973.30) scale(0.795,1)">vMix</text>
<g>
<polygon points="475,966 597,966 597,985 590,992.5 483,992.5 475,985" fill="#5f4196" stroke="#3a2a5e" stroke-width="1.6"/>
<g fill="#fdfdfd" stroke="#3a2c5c" stroke-width="2.4" stroke-linejoin="miter">
<polygon points="476.5,942 487.5,942 493,948 493,963 486,963 486,971 493,971 493,981 483,981 476.5,975"/>
<polygon points="493,949.5 524,949.5 524,981 499,981 493,975"/>
<polygon points="524,942 535,942 535,948.5 524,948.5"/>
<polygon points="524,950 535,950 535,981 524,981"/>
<polygon points="535,942 545,942 545,949.5 550,949.5 550,963 544,963 544,971 550,971 550,981 541,981 535,975"/>
<polygon points="550,955 556,949.5 569,949.5 569,963 559,963 559,971 569,971 569,981 556,981 550,975"/>
<polygon points="569,942.5 580,942.5 580,949.5 589,949.5 594.5,955 594.5,981 585,981 585,963 580.5,963 580.5,981 569,981"/>
</g>
<g stroke="#3a2c5c" stroke-width="2.2"><path d="M503.5,955 V970 M514,955 V970"/></g>
</g>
</svg>
</body></html>
